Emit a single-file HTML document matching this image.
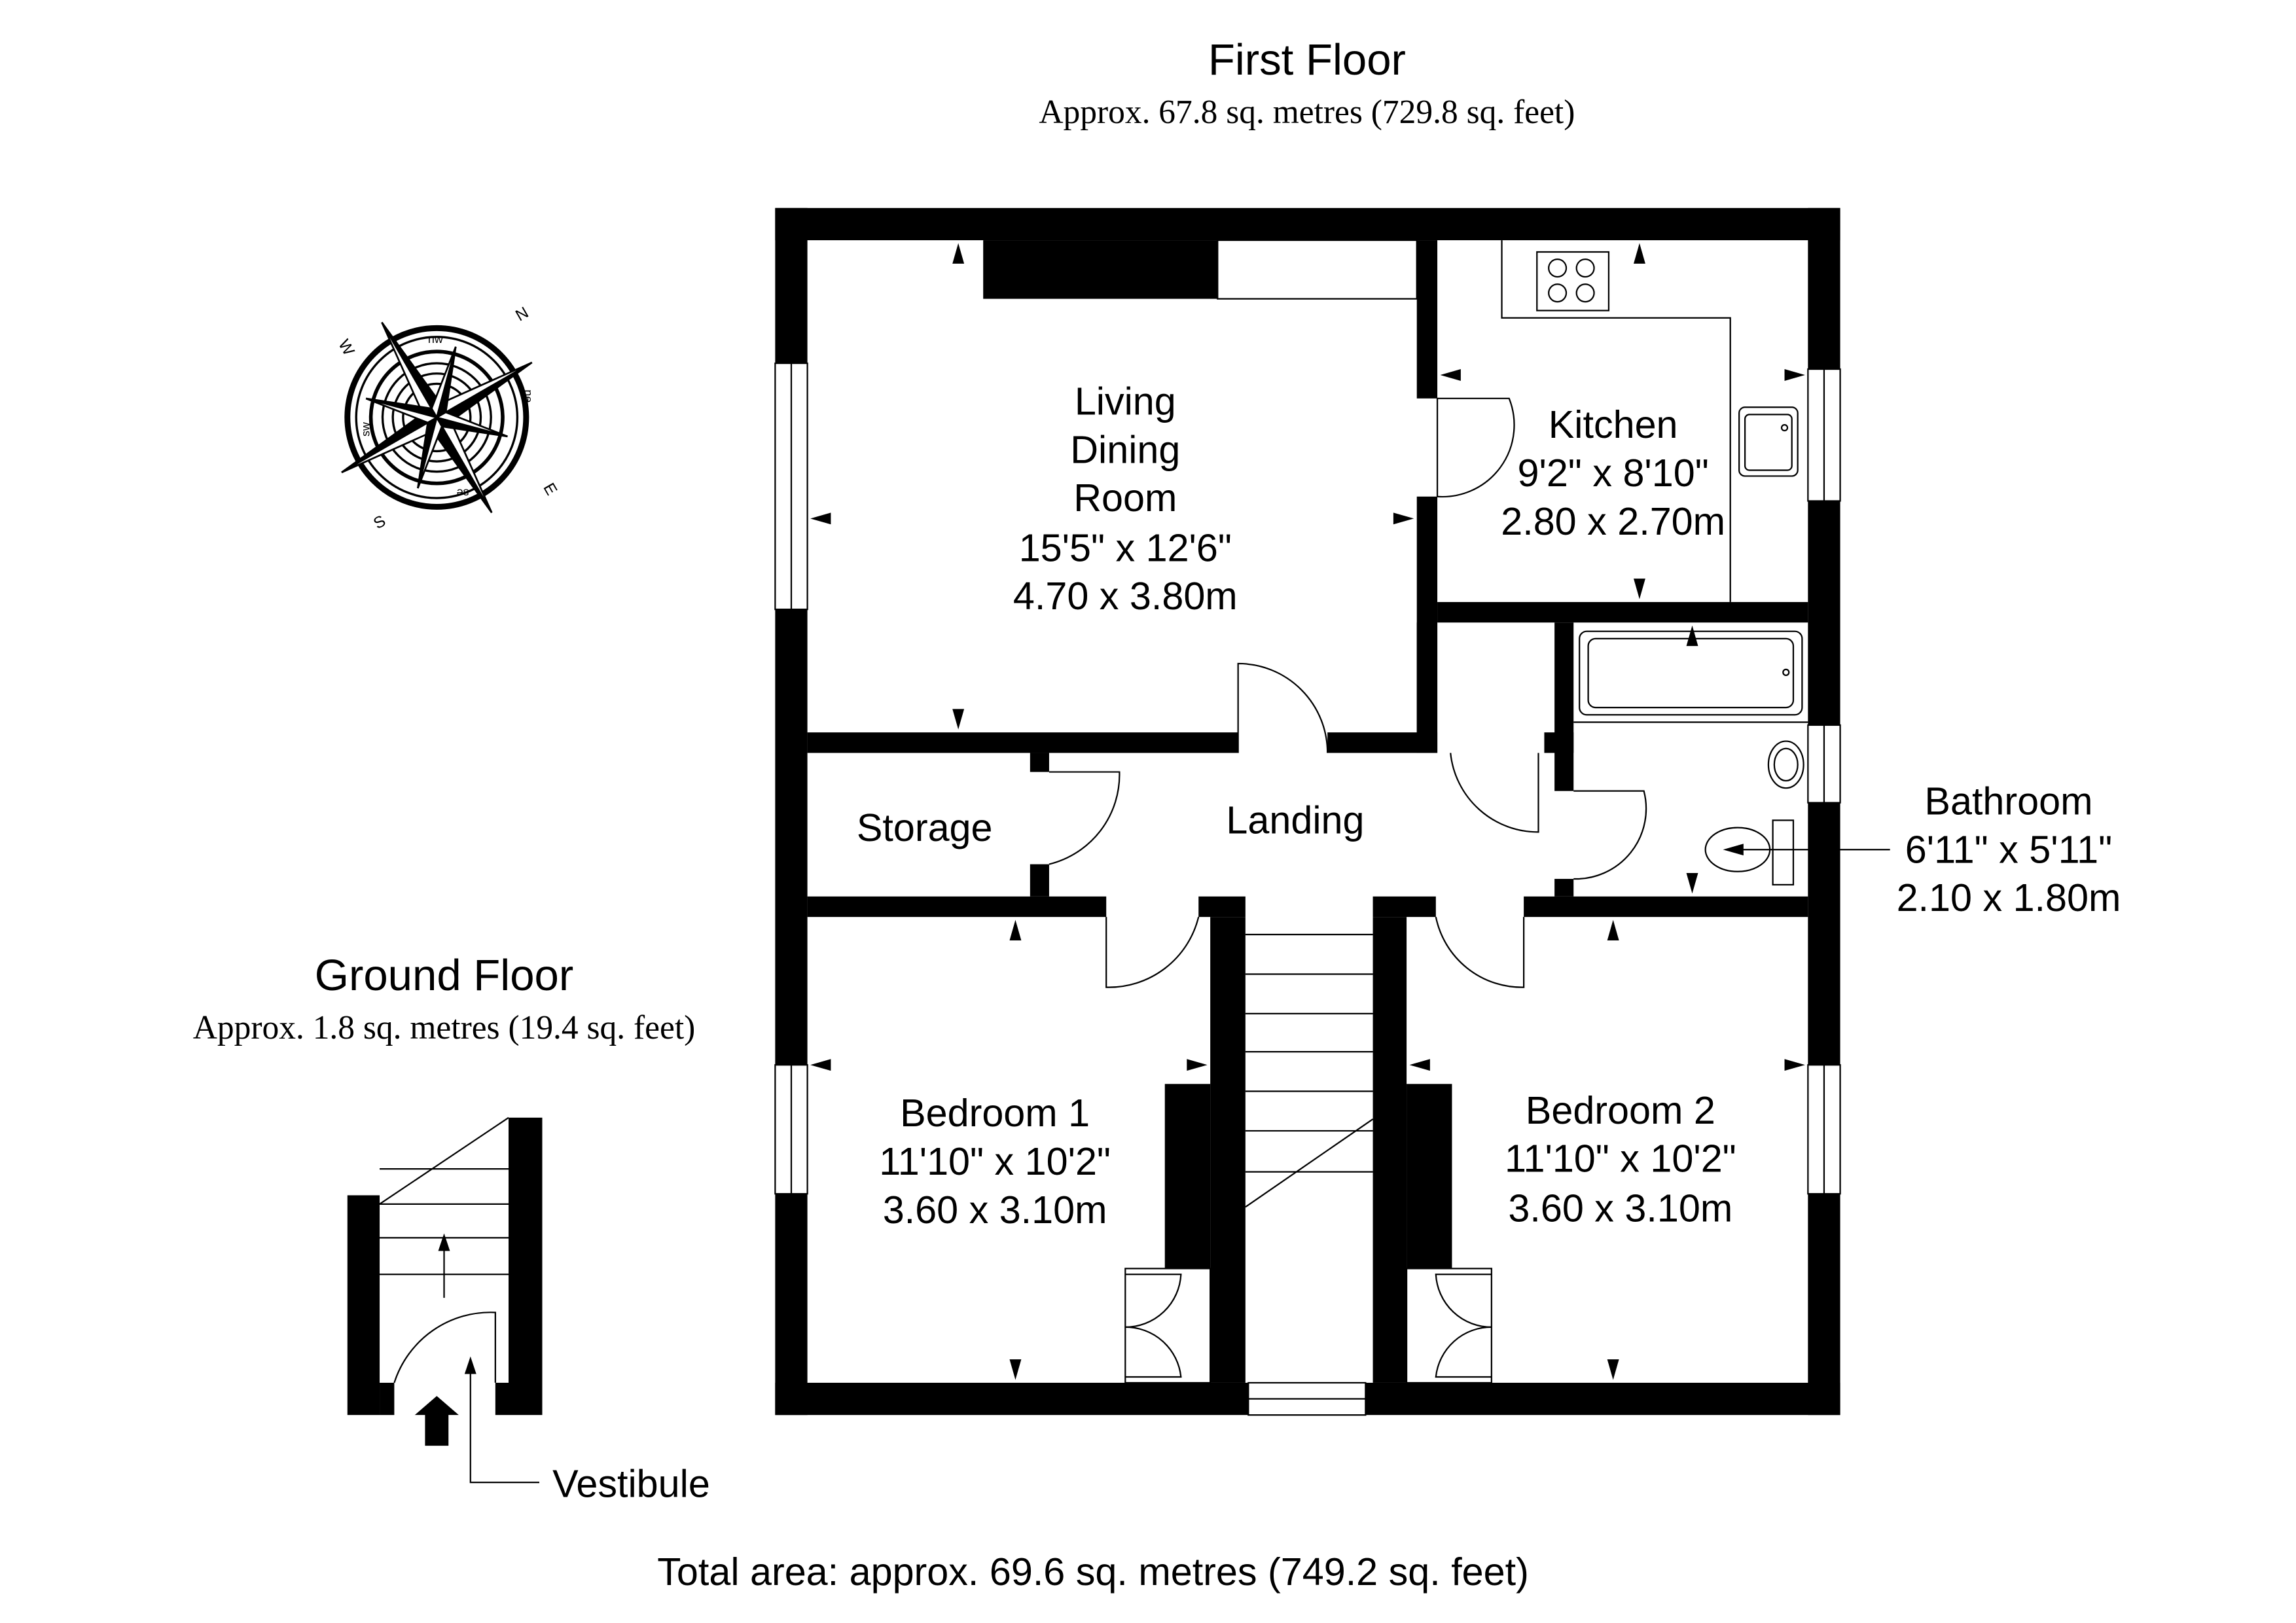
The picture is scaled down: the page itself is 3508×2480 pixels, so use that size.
<!DOCTYPE html>
<html><head><meta charset="utf-8"><style>
html,body{margin:0;padding:0;background:#fff;}
svg{display:block;}
text{font-family:"Liberation Sans",sans-serif;fill:#000;}
.serif{font-family:"Liberation Serif",serif;}
</style></head><body>
<svg width="3508" height="2480" viewBox="0 0 1567 1108" xmlns="http://www.w3.org/2000/svg">
<rect width="1567" height="1108" fill="#fff"/>
<text x="892" y="51" font-size="30" text-anchor="middle">First Floor</text>
<text x="892" y="84" font-size="23" text-anchor="middle" class="serif">Approx. 67.8 sq. metres (729.8 sq. feet)</text>

<g fill="#000">
<rect x="529" y="142" width="727" height="22"/>
<rect x="529" y="142" width="22" height="106"/>
<rect x="529" y="416" width="22" height="311"/>
<rect x="529" y="815" width="22" height="151"/>
<rect x="1234" y="142" width="22" height="110"/>
<rect x="1234" y="342" width="22" height="153"/>
<rect x="1234" y="548" width="22" height="179"/>
<rect x="1234" y="815" width="22" height="151"/>
<rect x="529" y="944" width="323" height="22"/>
<rect x="932" y="944" width="324" height="22"/>
<rect x="671" y="164" width="160" height="40"/>
<rect x="967" y="164" width="14" height="108"/>
<rect x="967" y="339" width="14" height="175"/>
<rect x="981" y="411" width="253" height="14"/>
<rect x="551" y="500" width="294" height="14"/>
<rect x="906" y="500" width="75" height="14"/>
<rect x="703" y="514" width="13" height="13"/>
<rect x="703" y="590" width="13" height="22"/>
<rect x="551" y="612" width="204" height="14"/>
<rect x="818" y="612" width="32" height="14"/>
<rect x="937" y="612" width="43" height="14"/>
<rect x="1040" y="612" width="194" height="14"/>
<rect x="1054" y="500" width="20" height="14"/>
<rect x="1061" y="425" width="13" height="115"/>
<rect x="1061" y="600" width="13" height="12"/>
<rect x="967" y="425" width="14" height="89"/>
<rect x="826" y="626" width="24" height="318"/>
<rect x="937" y="626" width="23" height="318"/>
<rect x="795" y="740" width="31" height="126"/>
<rect x="960" y="740" width="31" height="126"/>
</g>

<g fill="none" stroke="#000" stroke-width="1">
<rect x="529" y="248" width="22" height="168"/><line x1="540" y1="248" x2="540" y2="416"/>
<rect x="529" y="727" width="22" height="88"/><line x1="540" y1="727" x2="540" y2="815"/>
<rect x="1234" y="252" width="22" height="90"/><line x1="1245" y1="252" x2="1245" y2="342"/>
<rect x="1234" y="495" width="22" height="53"/><line x1="1245" y1="495" x2="1245" y2="548"/>
<rect x="1234" y="727" width="22" height="88"/><line x1="1245" y1="727" x2="1245" y2="815"/>
<rect x="852" y="944" width="80" height="22"/><line x1="852" y1="955" x2="932" y2="955"/>
<rect x="831" y="164" width="136" height="40"/>
<polyline points="1025,164 1025,217 1181,217 1181,411"/>
<rect x="1049" y="172" width="49" height="40"/>
<circle cx="1063" cy="183" r="6"/><circle cx="1082" cy="183" r="6"/>
<circle cx="1063" cy="200" r="6"/><circle cx="1082" cy="200" r="6"/>
<rect x="1187" y="278" width="40" height="47" rx="4"/><rect x="1191" y="283" width="32" height="38" rx="3"/>
<circle cx="1218" cy="292" r="2"/>
<path d="M981,272 L1030,272 A49,49 0 0 1 981,339 Z" fill="#fff"/>
<path d="M845,514 L845,453 A61,61 0 0 1 906,514" fill="#fff"/>
<path d="M716,527 L764,527 A63,63 0 0 1 716,590"/>
<path d="M755,626 L755,674 A63,63 0 0 0 818,626"/>
<path d="M980,626 A60,60 0 0 0 1040,674 L1040,626"/>
<path d="M1050,514 L1050,568 A60,60 0 0 1 990,514"/>
<path d="M1074,600 A48,48 0 0 0 1122,540 L1074,540"/>
<rect x="1078" y="431" width="152" height="57" rx="5"/><rect x="1084" y="436" width="140" height="47" rx="5"/>
<circle cx="1219" cy="459" r="2"/>
<line x1="1074" y1="493" x2="1234" y2="493"/>
<ellipse cx="1219" cy="522" rx="12" ry="16"/><ellipse cx="1219" cy="522" rx="8" ry="11"/>
<ellipse cx="1186" cy="580" rx="22" ry="15"/>
<rect x="1210" y="560" width="14" height="44"/>
<line x1="850" y1="638" x2="937" y2="638"/>
<line x1="850" y1="665" x2="937" y2="665"/>
<line x1="850" y1="692" x2="937" y2="692"/>
<line x1="850" y1="718" x2="937" y2="718"/>
<line x1="850" y1="745" x2="937" y2="745"/>
<line x1="850" y1="772" x2="937" y2="772"/>
<line x1="850" y1="800" x2="937" y2="800"/>
<line x1="850" y1="824" x2="937" y2="764"/>
<rect x="768" y="866" width="58" height="78"/>
<path d="M768,870 L806,870 A38,38 0 0 1 768,906"/>
<path d="M768,940 L806,940 A38,38 0 0 0 768,906"/>
<rect x="960" y="866" width="58" height="78"/>
<path d="M1018,870 L980,870 A38,38 0 0 0 1018,906"/>
<path d="M1018,940 L980,940 A38,38 0 0 1 1018,906"/>
<line x1="1180" y1="580" x2="1290" y2="580"/>
</g>

<g fill="#000">
<path d="M654,166 l-4,14 h8z"/><path d="M654,498 l-4,-14 h8z"/>
<path d="M553,354 l14,-4 v8z"/><path d="M965,354 l-14,-4 v8z"/>
<path d="M1119,166 l-4,14 h8z"/><path d="M1119,409 l-4,-14 h8z"/>
<path d="M983,256 l14,-4 v8z"/><path d="M1232,256 l-14,-4 v8z"/>
<path d="M1155,427 l-4,14 h8z"/><path d="M1155,610 l-4,-14 h8z"/>
<path d="M1176,580 l14,-4 v8z"/>
<path d="M693,628 l-4,14 h8z"/><path d="M693,942 l-4,-14 h8z"/>
<path d="M553,727 l14,-4 v8z"/><path d="M824,727 l-14,-4 v8z"/>
<path d="M1101,628 l-4,14 h8z"/><path d="M1101,942 l-4,-14 h8z"/>
<path d="M962,727 l14,-4 v8z"/><path d="M1232,727 l-14,-4 v8z"/>
</g>

<g font-size="26.5" text-anchor="middle">
<text x="768" y="283">Living</text><text x="768" y="316">Dining</text><text x="768" y="349">Room</text>
<text x="768" y="383">15'5" x 12'6"</text><text x="768" y="416">4.70 x 3.80m</text>
<text x="1101" y="299">Kitchen</text><text x="1101" y="332">9'2" x 8'10"</text><text x="1101" y="365">2.80 x 2.70m</text>
<text x="631" y="574">Storage</text>
<text x="884" y="569">Landing</text>
<text x="1371" y="556">Bathroom</text><text x="1371" y="589">6'11" x 5'11"</text><text x="1371" y="622">2.10 x 1.80m</text>
<text x="679" y="769">Bedroom 1</text><text x="679" y="802">11'10" x 10'2"</text><text x="679" y="835">3.60 x 3.10m</text>
<text x="1106" y="767">Bedroom 2</text><text x="1106" y="800">11'10" x 10'2"</text><text x="1106" y="834">3.60 x 3.10m</text>
</g>

<g transform="translate(298,285)" stroke="#000" fill="none">
<circle r="61" stroke-width="4"/><circle r="55" stroke-width="1.5"/><circle r="45" stroke-width="2.5"/><circle r="37" stroke-width="1.5"/><circle r="30" stroke-width="1.5"/><circle r="23" stroke-width="1.5"/>
<g transform="rotate(-30)" stroke-width="1.2">
<path d="M0,-75 L7,-7 L0,0Z" fill="#000"/><path d="M0,-75 L-7,-7 L0,0Z" fill="#fff"/>
<path d="M0,75 L7,7 L0,0Z" fill="#fff"/><path d="M0,75 L-7,7 L0,0Z" fill="#000"/>
<path d="M75,0 L7,7 L0,0Z" fill="#000"/><path d="M75,0 L7,-7 L0,0Z" fill="#fff"/>
<path d="M-75,0 L-7,-7 L0,0Z" fill="#000"/><path d="M-75,0 L-7,7 L0,0Z" fill="#fff"/>
<g transform="rotate(45)">
<path d="M0,-50 L5,-5 L0,0Z" fill="#000"/><path d="M0,-50 L-5,-5 L0,0Z" fill="#fff"/>
<path d="M0,50 L5,5 L0,0Z" fill="#fff"/><path d="M0,50 L-5,5 L0,0Z" fill="#000"/>
<path d="M50,0 L5,5 L0,0Z" fill="#000"/><path d="M50,0 L5,-5 L0,0Z" fill="#fff"/>
<path d="M-50,0 L-5,-5 L0,0Z" fill="#000"/><path d="M-50,0 L-5,5 L0,0Z" fill="#fff"/>
</g>
</g>
</g>
<g font-size="11" class="serif">
<text x="352" y="218" transform="rotate(-30 356 214)">N</text>
<text x="372" y="338" transform="rotate(60 376 334)">E</text>
<text x="255" y="360" transform="rotate(-30 259 356)">S</text>
<text x="232" y="240" transform="rotate(60 236 236)">W</text>
<text x="292" y="234" font-size="8">nw</text>
<text x="354" y="270" font-size="8" transform="rotate(90 358 270)">ne</text>
<text x="312" y="338" font-size="8" transform="rotate(180 316 336)">se</text>
<text x="248" y="294" font-size="8" transform="rotate(-90 252 294)">sw</text>
</g>

<text x="303" y="676" font-size="30" text-anchor="middle">Ground Floor</text>
<text x="303" y="709" font-size="23" text-anchor="middle" class="serif">Approx. 1.8 sq. metres (19.4 sq. feet)</text>
<g fill="#000">
<rect x="237" y="816" width="22" height="150"/>
<rect x="347" y="763" width="23" height="203"/>
<rect x="259" y="944" width="10" height="22"/>
<rect x="338" y="944" width="9" height="22"/>
<path d="M290,987 h16 v-21 h7 l-15,-13 l-15,13 h7z"/>
<path d="M303,842 l-4,12 h8z"/><path d="M321,926 l-4,12 h8z"/>
</g>
<g fill="none" stroke="#000" stroke-width="1">
<line x1="259" y1="822" x2="347" y2="763"/>
<line x1="259" y1="822" x2="347" y2="822"/>
<line x1="259" y1="845" x2="347" y2="845"/>
<line x1="259" y1="870" x2="347" y2="870"/>
<line x1="259" y1="798" x2="347" y2="798"/>
<line x1="303" y1="848" x2="303" y2="886"/>
<path d="M269,944 A69,69 0 0 1 338,896 L338,944"/>
<polyline points="321,932 321,1012 368,1012"/>
</g>
<text x="377" y="1022" font-size="26.5">Vestibule</text>
<text x="746" y="1082" font-size="26.5" text-anchor="middle">Total area: approx. 69.6 sq. metres (749.2 sq. feet)</text>
</svg>
</body></html>
